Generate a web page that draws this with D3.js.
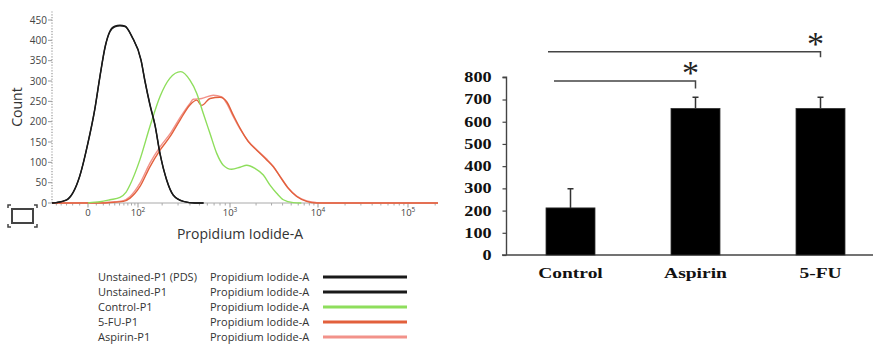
<!DOCTYPE html>
<html>
<head>
<meta charset="utf-8">
<script src="https://cdn.jsdelivr.net/npm/d3@7"></script>
<style>
  body { margin: 0; background: #fff; }
  svg { display: block; }
</style>
</head>
<body>
<svg id="chart" width="874" height="344"></svg>
<script>
// ---- histogram data: [PI-A value, count] ----
const unstainedPDS = [[-60,0],[-50,1],[-30,7],[-10,65],[0,147],[8,229],[15,310],[23,384],[31,421],[40,433],[51,436],[63,434],[81,409],[110,352],[124,300],[143,243],[165,192],[189,122],[225,57],[266,20],[341,4],[451,0],[550,0]];
const unstained = [[-60,0],[-50,1],[-30,8],[-10,66],[0,149],[8,231],[15,312],[23,386],[31,423],[40,435],[51,437],[63,435],[81,410],[110,350],[124,298],[143,241],[165,190],[189,120],[225,56],[266,19],[341,4],[451,0],[550,0]];
const controlP1 = [[0,0],[2,1],[15,3],[31,8],[51,14],[65,26],[76,45],[106,106],[143,188],[189,262],[245,307],[320,323],[400,302],[469,270],[547,220],[638,171],[743,122],[861,93],[1047,83],[1308,88],[1563,93],[1945,85],[2420,69],[2882,44],[3430,24],[4075,8],[5280,1],[6500,0]];
const fuP1 = [[-60,0],[20,0],[31,1],[59,4],[76,12],[106,40],[143,89],[189,130],[245,163],[315,204],[400,241],[469,253],[527,240],[638,257],[800,260],[929,249],[1093,216],[1308,184],[1630,151],[2034,130],[2643,106],[3141,89],[3740,65],[4640,36],[5765,16],[7470,4],[9660,0],[215000,0]];
const aspirinP1 = [[-60,0],[20,1],[40,3],[59,6],[76,16],[106,48],[143,98],[189,138],[245,170],[315,210],[400,245],[433,255],[527,257],[688,265],[831,261],[929,245],[1093,212],[1308,182],[1630,152],[2034,131],[2643,108],[3141,90],[3740,66],[4640,37],[5765,17],[7470,5],[9660,1],[12000,0],[215000,0]];

const histSeries = [
  { name: "Unstained-P1 (PDS)", param: "Propidium Iodide-A", color: "#1a1a1a", values: unstainedPDS },
  { name: "Unstained-P1", param: "Propidium Iodide-A", color: "#1a1a1a", values: unstained },
  { name: "Control-P1", param: "Propidium Iodide-A", color: "#8ede5c", values: controlP1 },
  { name: "5-FU-P1", param: "Propidium Iodide-A", color: "#e2603c", values: fuP1 },
  { name: "Aspirin-P1", param: "Propidium Iodide-A", color: "#f2928a", values: aspirinP1 },
];
const histTicks = [0, 100, 1000, 10000, 100000];
const countTicks = d3.range(0, 451, 50);

// ---- bar chart data ----
const groups = ["Control", "Aspirin", "5-FU"];
const means = [212, 660, 660];
const errors = [86, 50, 50];
const barTicks = d3.range(0, 801, 100);
const comparisons = [["Control", "Aspirin"], ["Control", "5-FU"]];

const svg = d3.select("#chart");

// ================= left: flow histogram =================
const x = d3.scaleSymlog().constant(50)
  .domain([-60, 0, 100, 1000, 1e4, 1e5, 2.15e5])
  .range([52, 88, 138, 230, 318, 408, 438]);
const y = d3.scaleLinear().domain([0, 450]).range([203, 20]);

const left = svg.append("g").attr("font-family", "'Open Sans', sans-serif");

// y axis (dotted)
left.append("line")
  .attr("x1", 52).attr("x2", 52)
  .attr("y1", y(0)).attr("y2", y(475))
  .attr("stroke", "#9a9a9a").attr("stroke-width", 1.2)
  .attr("stroke-dasharray", "1.2,1.6");
left.selectAll(".ytick").data(countTicks).join("line")
  .attr("x1", 48).attr("x2", 52)
  .attr("y1", d => y(d)).attr("y2", d => y(d))
  .attr("stroke", "#999");
left.selectAll(".ylab").data(countTicks).join("text")
  .attr("x", 47).attr("y", d => y(d)).attr("dy", "0.35em")
  .attr("text-anchor", "end").attr("font-size", 10).attr("fill", "#444")
  .text(d => d);

left.append("text")
  .attr("transform", "translate(22,107) rotate(-90)")
  .attr("text-anchor", "middle").attr("font-size", 14).attr("fill", "#333")
  .text("Count");

// x axis
left.append("line")
  .attr("x1", 52).attr("x2", 438)
  .attr("y1", y(0)).attr("y2", y(0))
  .attr("stroke", "#aaa").attr("stroke-width", 1.2);

const minorTicks = [-50, -40, -30, -20, -10]
  .concat(d3.range(10, 100, 10), d3.range(200, 1000, 100), d3.range(2000, 10000, 1000),
          d3.range(20000, 100000, 10000), [200000]);
left.selectAll(".xminor").data(minorTicks).join("line")
  .attr("x1", d => x(d)).attr("x2", d => x(d))
  .attr("y1", y(0)).attr("y2", y(0) + 2.5)
  .attr("stroke", "#aaa");
left.selectAll(".xmajor").data(histTicks).join("line")
  .attr("x1", d => x(d)).attr("x2", d => x(d))
  .attr("y1", y(0)).attr("y2", y(0) + 4.5)
  .attr("stroke", "#999");

const xl = left.selectAll(".xlab").data(histTicks).join("text")
  .attr("x", d => x(d)).attr("y", 216)
  .attr("text-anchor", "middle").attr("font-size", 9.5).attr("fill", "#444");
xl.each(function (d) {
  const t = d3.select(this);
  if (d === 0) { t.text("0"); return; }
  t.append("tspan").text("10");
  t.append("tspan").attr("dy", -4).attr("font-size", 6.5).text(Math.round(Math.log10(d)));
});

left.append("text")
  .attr("x", 240).attr("y", 239)
  .attr("text-anchor", "middle").attr("font-size", 14).attr("fill", "#333")
  .text("Propidium Iodide-A");

// zoom icon
const icon = left.append("g").attr("stroke", "#444").attr("fill", "none");
icon.append("rect").attr("x", 12).attr("y", 209).attr("width", 21).attr("height", 14).attr("stroke-width", 2);
icon.append("path")
  .attr("stroke-width", 1.5)
  .attr("d", "M8,208V205H11 M34,205H37V208 M8,224V227H11 M34,227H37V224");

// curves
const line = d3.line()
  .x(d => x(d[0]))
  .y(d => y(d[1]))
  .curve(d3.curveMonotoneX);
left.selectAll(".curve").data(histSeries.slice().reverse()).join("path")
  .attr("fill", "none")
  .attr("stroke", d => d.color)
  .attr("stroke-width", 1.4)
  .attr("d", d => line(d.values));

// legend
const legend = left.append("g");
const rowY = i => 277 + i * 15;
legend.selectAll(".lname").data(histSeries).join("text")
  .attr("x", 98).attr("y", (d, i) => rowY(i)).attr("dy", "0.35em")
  .attr("font-size", 11).attr("fill", "#333").text(d => d.name);
legend.selectAll(".lparam").data(histSeries).join("text")
  .attr("x", 210).attr("y", (d, i) => rowY(i)).attr("dy", "0.35em")
  .attr("font-size", 11).attr("fill", "#333").text(d => d.param);
legend.selectAll(".lline").data(histSeries).join("line")
  .attr("x1", 323).attr("x2", 407)
  .attr("y1", (d, i) => rowY(i)).attr("y2", (d, i) => rowY(i))
  .attr("stroke", d => d.color).attr("stroke-width", 3);

// ================= right: bar chart =================
const bx = d3.scaleBand().domain(groups).range([508, 883]).paddingInner(0.608).paddingOuter(0.304);
const by = d3.scaleLinear().domain([0, 800]).range([255, 77.3]);
const stretch = "scale(1.3,1)";

const right = svg.append("g").attr("font-family", "'Liberation Serif', 'Times New Roman', serif");

const yAxis = right.append("g")
  .attr("transform", "translate(506.5,0)")
  .call(d3.axisLeft(by).tickValues(barTicks).tickSize(4).tickPadding(7.5).tickFormat(d3.format("d")));
yAxis.select(".domain").attr("stroke", "#444").attr("stroke-width", 1.4).attr("d", `M-4,${by(800)}H0V${by(0)}`);
yAxis.selectAll(".tick line").attr("stroke", "#444").attr("stroke-width", 1.2);
yAxis.selectAll(".tick text")
  .attr("font-size", 14).attr("font-weight", "bold").attr("fill", "#111")
  .attr("font-family", "'Liberation Serif', serif")
  .attr("transform", stretch);

right.append("line")
  .attr("x1", 502).attr("x2", 873)
  .attr("y1", by(0)).attr("y2", by(0))
  .attr("stroke", "#444").attr("stroke-width", 1.4);

right.selectAll(".bar").data(groups).join("rect")
  .attr("x", d => bx(d)).attr("width", bx.bandwidth())
  .attr("y", (d, i) => by(means[i])).attr("height", (d, i) => by(0) - by(means[i]))
  .attr("fill", "#000").attr("stroke", "#333").attr("stroke-width", 0.8);

const cx = d => bx(d) + bx.bandwidth() / 2;
right.selectAll(".err").data(groups).join("path")
  .attr("fill", "none").attr("stroke", "#333").attr("stroke-width", 1.5)
  .attr("d", (d, i) => {
    const top = by(means[i] + errors[i]);
    return `M${cx(d)},${by(means[i])}V${top}M${cx(d) - 3},${top}H${cx(d) + 3}`;
  });

right.selectAll(".cat").data(groups).join("text")
  .attr("transform", d => `translate(${cx(d)},278) ${stretch}`)
  .attr("text-anchor", "middle").attr("font-size", 15).attr("font-weight", "bold").attr("fill", "#111")
  .text(d => d);

// significance brackets
const bracketLevel = [783, 915];
const bracketDrop = [750, 890];
const bracketStart = [8, 2];
comparisons.forEach((c, i) => {
  const x0 = bx(c[0]) + bracketStart[i];
  const x1 = cx(c[1]);
  right.append("path")
    .attr("fill", "none").attr("stroke", "#444").attr("stroke-width", 1.5)
    .attr("d", `M${x0},${by(bracketLevel[i])}H${x1}V${by(bracketDrop[i])}`);
  right.append("text")
    .attr("x", x1 - 5).attr("y", by(bracketLevel[i]) + 3)
    .attr("text-anchor", "middle").attr("font-size", 34).attr("fill", "#222")
    .text("*");
});
</script>
</body>
</html>
